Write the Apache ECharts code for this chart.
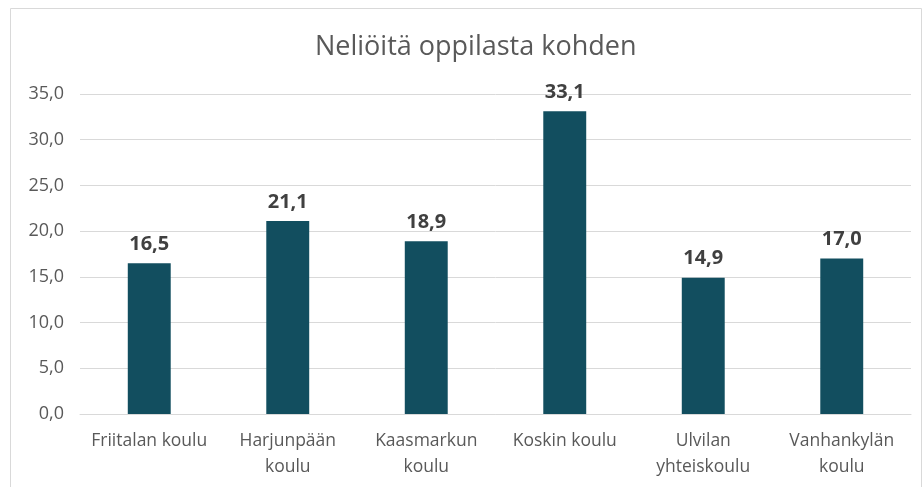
<!DOCTYPE html>
<html>
<head>
<meta charset="utf-8">
<script src="https://cdn.jsdelivr.net/npm/echarts@6/dist/echarts.min.js"></script>
<style>
  html, body { margin: 0; padding: 0; background: #fff; }
  #chart { width: 923px; height: 487px; }
</style>
</head>
<body>
<div id="chart"></div>
<script>
// koulut ja neliöt per oppilas
var schools = ['Friitalan koulu', 'Harjunpään\nkoulu', 'Kaasmarkun\nkoulu', 'Koskin koulu', 'Ulvilan\nyhteiskoulu', 'Vanhankylän\nkoulu'];
var sqmPerPupil = [16.5, 21.1, 18.9, 33.1, 14.9, 17.0];
var yTicks = [0, 5, 10, 15, 20, 25, 30, 35];

var fmt = function (v) { return Number(v).toFixed(1).replace('.', ','); };
var font = 'Open Sans';

var chart = echarts.init(document.getElementById('chart'));
var option = {
  animation: false,
  textStyle: { fontFamily: font },
  title: {
    text: 'Neliöitä oppilasta kohden',
    left: 310,
    top: 29,
    textStyle: { fontFamily: font, fontSize: 27, fontWeight: 'normal', color: '#595959' }
  },
  graphic: [{
    type: 'rect',
    shape: { x: 10.5, y: 8.5, width: 911, height: 490 },
    style: { fill: 'none', stroke: '#d9d9d9', lineWidth: 1 },
    silent: true
  }],
  grid: { left: 80, right: 12, top: 94, bottom: 73 },
  xAxis: {
    type: 'category',
    data: schools,
    axisTick: { show: false },
    axisLine: { lineStyle: { color: '#d9d9d9' } },
    axisLabel: { color: '#595959', fontSize: 17.5, margin: 14, lineHeight: 26, interval: 0 }
  },
  yAxis: {
    type: 'value',
    min: yTicks[0],
    max: yTicks[yTicks.length - 1],
    interval: 5,
    axisLine: { show: false },
    axisTick: { show: false },
    splitLine: { lineStyle: { color: '#d9d9d9' } },
    axisLabel: { color: '#595959', fontSize: 18, margin: 16, formatter: fmt }
  },
  series: [{
    type: 'bar',
    data: sqmPerPupil,
    barWidth: '31%',
    itemStyle: { color: '#124e5f' },
    label: {
      show: true,
      position: 'top',
      distance: 9,
      color: '#404040',
      fontSize: 20,
      fontWeight: 'bold',
      formatter: function (p) { return fmt(p.value); }
    }
  }]
};
chart.setOption(option);
</script>
</body>
</html>
